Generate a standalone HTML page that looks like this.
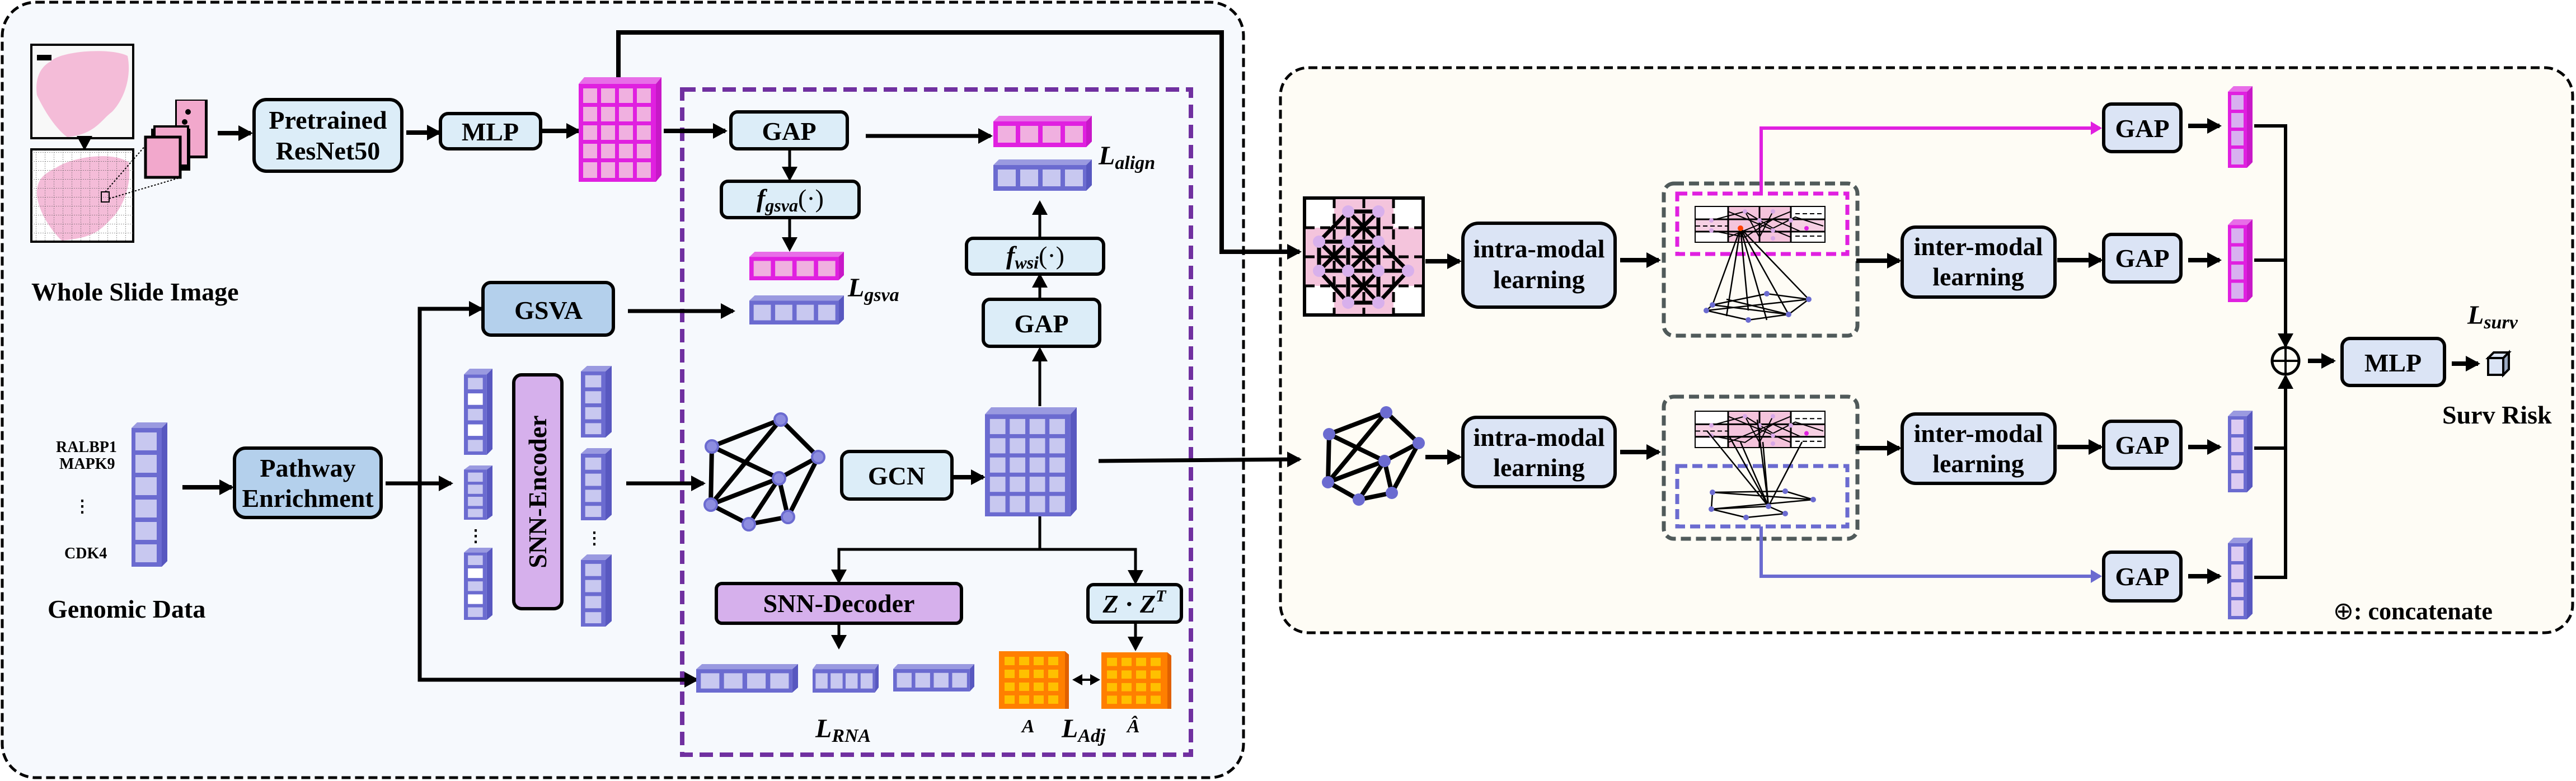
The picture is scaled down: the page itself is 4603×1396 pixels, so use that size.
<!DOCTYPE html>
<html><head><meta charset="utf-8"><style>
html,body{margin:0;padding:0;background:#fff}
svg{display:block}
text{font-family:"Liberation Serif",serif;font-weight:bold;fill:#000}
.b{font-size:46px}
.m{font-style:italic;font-weight:bold}
</style></head><body>
<svg width="4603" height="1396" viewBox="0 0 4603 1396" xmlns="http://www.w3.org/2000/svg">
<defs>
<marker id="a" markerUnits="userSpaceOnUse" markerWidth="26" markerHeight="28" refX="22" refY="14" orient="auto"><path d="M0,0 L26,14 L0,28 Z" fill="#000"/></marker>
<marker id="am" markerUnits="userSpaceOnUse" markerWidth="20" markerHeight="24" refX="16" refY="12" orient="auto"><path d="M0,0 L20,12 L0,24 Z" fill="#e020e0"/></marker>
<marker id="ab" markerUnits="userSpaceOnUse" markerWidth="20" markerHeight="24" refX="16" refY="12" orient="auto"><path d="M0,0 L20,12 L0,24 Z" fill="#6b6bd0"/></marker>
<marker id="as" markerUnits="userSpaceOnUse" markerWidth="18" markerHeight="20" refX="14" refY="10" orient="auto-start-reverse"><path d="M0,0 L18,10 L0,20 Z" fill="#000"/></marker>
<symbol id="rowM" viewBox="0 0 176 56" preserveAspectRatio="none">
<polygon points="0,10 10,0 176,0 166,10" fill="#e86ee8"/><polygon points="166,10 176,0 176,46 166,56" fill="#c818c8"/>
<rect x="0" y="10" width="166" height="46" fill="#e020e0"/>
<g fill="#f0b0e0"><rect x="8" y="18" width="32" height="30"/><rect x="48" y="18" width="32" height="30"/><rect x="88" y="18" width="32" height="30"/><rect x="128" y="18" width="32" height="30"/></g></symbol>
<symbol id="rowB" viewBox="0 0 176 56" preserveAspectRatio="none">
<polygon points="0,10 10,0 176,0 166,10" fill="#9a9ae0"/><polygon points="166,10 176,0 176,46 166,56" fill="#5858c0"/>
<rect x="0" y="10" width="166" height="46" fill="#6b6bd0"/>
<g fill="#c8c8f0"><rect x="8" y="18" width="32" height="30"/><rect x="48" y="18" width="32" height="30"/><rect x="88" y="18" width="32" height="30"/><rect x="128" y="18" width="32" height="30"/></g></symbol>
<symbol id="colM" viewBox="0 0 44 146" preserveAspectRatio="none">
<polygon points="0,10 10,0 44,0 34,10" fill="#e86ee8"/><polygon points="34,10 44,0 44,136 34,146" fill="#c818c8"/>
<rect x="0" y="10" width="34" height="136" fill="#e020e0"/>
<g fill="#d8b0f0"><rect x="6" y="16" width="22" height="26"/><rect x="6" y="48" width="22" height="26"/><rect x="6" y="80" width="22" height="26"/><rect x="6" y="112" width="22" height="28"/></g></symbol>
<symbol id="colB" viewBox="0 0 44 146" preserveAspectRatio="none">
<polygon points="0,10 10,0 44,0 34,10" fill="#9a9ae0"/><polygon points="34,10 44,0 44,136 34,146" fill="#5858c0"/>
<rect x="0" y="10" width="34" height="136" fill="#6b6bd0"/>
<g fill="#dccbf2"><rect x="6" y="16" width="22" height="26"/><rect x="6" y="48" width="22" height="26"/><rect x="6" y="80" width="22" height="26"/><rect x="6" y="112" width="22" height="28"/></g></symbol>
<symbol id="col5" viewBox="0 0 50 150" preserveAspectRatio="none">
<polygon points="0,10 10,0 50,0 40,10" fill="#9a9ae0"/><polygon points="40,10 50,0 50,140 40,150" fill="#5858c0"/>
<rect x="0" y="10" width="40" height="140" fill="#6b6bd0"/>
<g fill="#c8c8f0"><rect x="7" y="16" width="26" height="20"/><rect x="7" y="43" width="26" height="20" fill="#fff"/><rect x="7" y="70" width="26" height="20"/><rect x="7" y="97" width="26" height="20" fill="#fff"/><rect x="7" y="124" width="26" height="20"/></g></symbol>
<symbol id="col4" viewBox="0 0 50 130" preserveAspectRatio="none">
<polygon points="0,10 10,0 50,0 40,10" fill="#9a9ae0"/><polygon points="40,10 50,0 50,120 40,130" fill="#5858c0"/>
<rect x="0" y="10" width="40" height="120" fill="#6b6bd0"/>
<g fill="#c8c8f0"><rect x="7" y="17" width="26" height="22"/><rect x="7" y="46" width="26" height="22"/><rect x="7" y="75" width="26" height="22"/><rect x="7" y="104" width="26" height="20"/></g></symbol>
<symbol id="gridM" viewBox="0 0 148 187" preserveAspectRatio="none">
<polygon points="0,12 10,0 148,0 138,12" fill="#e86ee8"/><polygon points="138,12 148,0 148,175 138,187" fill="#c818c8"/>
<rect x="0" y="12" width="138" height="175" fill="#e020e0"/>
<g fill="#f0b0e0">
<rect x="8" y="20" width="25" height="26"/><rect x="40" y="20" width="25" height="26"/><rect x="72" y="20" width="25" height="26"/><rect x="104" y="20" width="25" height="26"/>
<rect x="8" y="53" width="25" height="26"/><rect x="40" y="53" width="25" height="26"/><rect x="72" y="53" width="25" height="26"/><rect x="104" y="53" width="25" height="26"/>
<rect x="8" y="86" width="25" height="26"/><rect x="40" y="86" width="25" height="26"/><rect x="72" y="86" width="25" height="26"/><rect x="104" y="86" width="25" height="26"/>
<rect x="8" y="119" width="25" height="26"/><rect x="40" y="119" width="25" height="26"/><rect x="72" y="119" width="25" height="26"/><rect x="104" y="119" width="25" height="26"/>
<rect x="8" y="152" width="25" height="28"/><rect x="40" y="152" width="25" height="28"/><rect x="72" y="152" width="25" height="28"/><rect x="104" y="152" width="25" height="28"/></g></symbol>
<symbol id="gridB" viewBox="0 0 148 187" preserveAspectRatio="none">
<polygon points="0,12 10,0 148,0 138,12" fill="#9a9ae0"/><polygon points="138,12 148,0 148,175 138,187" fill="#5858c0"/>
<rect x="0" y="12" width="138" height="175" fill="#6b6bd0"/>
<g fill="#c8c8f0">
<rect x="8" y="20" width="25" height="26"/><rect x="40" y="20" width="25" height="26"/><rect x="72" y="20" width="25" height="26"/><rect x="104" y="20" width="25" height="26"/>
<rect x="8" y="53" width="25" height="26"/><rect x="40" y="53" width="25" height="26"/><rect x="72" y="53" width="25" height="26"/><rect x="104" y="53" width="25" height="26"/>
<rect x="8" y="86" width="25" height="26"/><rect x="40" y="86" width="25" height="26"/><rect x="72" y="86" width="25" height="26"/><rect x="104" y="86" width="25" height="26"/>
<rect x="8" y="119" width="25" height="26"/><rect x="40" y="119" width="25" height="26"/><rect x="72" y="119" width="25" height="26"/><rect x="104" y="119" width="25" height="26"/>
<rect x="8" y="152" width="25" height="28"/><rect x="40" y="152" width="25" height="28"/><rect x="72" y="152" width="25" height="28"/><rect x="104" y="152" width="25" height="28"/></g></symbol>
<symbol id="gridO" viewBox="0 0 125 103" preserveAspectRatio="none">
<polygon points="118,0 125,6 125,103 118,103" fill="#e06000"/>
<rect x="0" y="0" width="118" height="103" fill="#ff7f00"/>
<g fill="#ffc000">
<rect x="10" y="10" width="18" height="15"/><rect x="36" y="10" width="18" height="15"/><rect x="62" y="10" width="18" height="15"/><rect x="88" y="10" width="18" height="15"/>
<rect x="10" y="33" width="18" height="15"/><rect x="36" y="33" width="18" height="15"/><rect x="62" y="33" width="18" height="15"/><rect x="88" y="33" width="18" height="15"/>
<rect x="10" y="56" width="18" height="15"/><rect x="36" y="56" width="18" height="15"/><rect x="62" y="56" width="18" height="15"/><rect x="88" y="56" width="18" height="15"/>
<rect x="10" y="79" width="18" height="15"/><rect x="36" y="79" width="18" height="15"/><rect x="62" y="79" width="18" height="15"/><rect x="88" y="79" width="18" height="15"/></g></symbol>
<pattern id="fine" width="16" height="16" patternUnits="userSpaceOnUse"><path d="M0,0 H16 M0,0 V16" stroke="#555" stroke-width="1.2" stroke-dasharray="2 2" fill="none"/></pattern>
<symbol id="mini" viewBox="0 0 234 66" preserveAspectRatio="none">
<rect x="0" y="0" width="234" height="66" fill="#fff" stroke="#000" stroke-width="4"/>
<rect x="60" y="2" width="112" height="62" fill="#f4c4dc"/><rect x="2" y="24" width="230" height="22" fill="#f4c4dc" opacity="0.8"/>
<path d="M2,24H232M2,46H232M60,2V64M116,2V64M172,2V64" stroke="#000" stroke-width="3"/>
<path d="M180,14H230M2,36H60M180,54H230" stroke="#000" stroke-width="2" stroke-dasharray="8 5"/>
<path d="M30,26L90,10L140,40L180,20L230,36M30,44L90,56L140,24L190,46M60,10L172,56M60,56L172,10M90,10L116,56M140,10L116,56" stroke="#000" stroke-width="2" fill="none"/>
<g fill="#d8a8e8"><circle cx="90" cy="10" r="4"/><circle cx="140" cy="10" r="4"/><circle cx="30" cy="26" r="4"/><circle cx="116" cy="26" r="4"/><circle cx="172" cy="26" r="4"/><circle cx="30" cy="44" r="4"/><circle cx="140" cy="44" r="4"/><circle cx="140" cy="58" r="4"/></g>
<circle cx="200" cy="40" r="4" fill="#e020e0"/>
</symbol>
</defs>

<rect x="4" y="4" width="2218" height="1386" rx="60" fill="#f6f9fd" stroke="#000" stroke-width="5" stroke-dasharray="16 8"/>
<rect x="2288" y="121" width="2309" height="1010" rx="50" fill="#fefcf5" stroke="#000" stroke-width="5" stroke-dasharray="16 8"/>
<rect x="1219" y="160" width="909" height="1189" fill="none" stroke="#7030a0" stroke-width="8" stroke-dasharray="24 12"/>

<rect x="56" y="80" width="182" height="167" fill="#f8f8f8" stroke="#000" stroke-width="4"/>
<path d="M90,110 C110,90 200,85 228,100 C236,140 220,180 200,200 C180,215 170,240 120,245 C100,230 80,200 66,170 C62,140 72,120 90,110Z" fill="#f4bcd8"/>
<rect x="66" y="98" width="26" height="10" fill="#000"/>
<rect x="56" y="267" width="182" height="165" fill="#fff" stroke="#000" stroke-width="4"/>
<path d="M100,300 C130,280 200,270 230,290 C236,330 220,370 200,390 C180,410 170,425 110,430 C90,410 70,380 66,350 C64,320 80,310 100,300Z" fill="#f4bcd8"/>
<rect x="56" y="267" width="182" height="165" fill="url(#fine)"/>
<rect x="181" y="343" width="14" height="18" fill="none" stroke="#000" stroke-width="2"/>
<path d="M195,355 L320,318 M188,343 L260,260" stroke="#000" stroke-width="2" stroke-dasharray="3 3"/>
<line x1="151" y1="247" x2="151" y2="265" stroke="#000" stroke-width="5" marker-end="url(#a)"/>
<rect x="313" y="178" width="58" height="105" fill="#000"/><rect x="316" y="180" width="50" height="98" fill="#f2a8cc"/>
<circle cx="336" cy="200" r="5"/><circle cx="330" cy="218" r="5"/>
<rect x="270" y="230" width="70" height="75" fill="#000"/><rect x="276" y="226" width="60" height="70" fill="#f2a8cc" stroke="#000" stroke-width="4"/>
<rect x="260" y="245" width="62" height="72" fill="#f2a8cc" stroke="#000" stroke-width="5"/>
<line x1="389" y1="238" x2="448" y2="238" stroke="#000" stroke-width="8" marker-end="url(#a)"/>
<rect x="454" y="178" width="264" height="128" rx="22" fill="#dcedf8" stroke="#000" stroke-width="6"/>
<text class="b" x="586" y="230" text-anchor="middle">Pretrained</text>
<text class="b" x="586" y="285" text-anchor="middle">ResNet50</text>
<line x1="726" y1="237" x2="785" y2="237" stroke="#000" stroke-width="8" marker-end="url(#a)"/>
<rect x="787" y="203" width="179" height="63" rx="14" fill="#dcedf8" stroke="#000" stroke-width="6"/>
<text class="b" x="876" y="251" text-anchor="middle">MLP</text>
<line x1="968" y1="234" x2="1034" y2="234" stroke="#000" stroke-width="8" marker-end="url(#a)"/>
<use href="#gridM" x="1034" y="138" width="148" height="187"/>
<text x="56" y="537" style="font-size:46px">Whole Slide Image</text>
<polyline points="1105,138 1105,58 2183,58 2183,450 2322,450" fill="none" stroke="#000" stroke-width="8" marker-end="url(#a)"/>

<line x1="1186" y1="234" x2="1296" y2="234" stroke="#000" stroke-width="8" marker-end="url(#a)"/>
<rect x="1306" y="200" width="208" height="66" rx="12" fill="#dcedf8" stroke="#000" stroke-width="6"/>
<text class="b" x="1410" y="250" text-anchor="middle">GAP</text>
<line x1="1547" y1="243" x2="1770" y2="243" stroke="#000" stroke-width="7" marker-end="url(#a)"/>
<use href="#rowM" x="1775" y="207" width="176" height="56"/>
<use href="#rowB" x="1775" y="285" width="176" height="56"/>
<text class="m" x="1963" y="294" style="font-size:48px">L<tspan style="font-size:34px" dy="8">align</tspan></text>
<line x1="1411" y1="267" x2="1411" y2="320" stroke="#000" stroke-width="5" marker-end="url(#a)"/>
<rect x="1289" y="324" width="246" height="65" rx="12" fill="#dcedf8" stroke="#000" stroke-width="6"/>
<text class="m" x="1412" y="370" text-anchor="middle" style="font-size:46px">f<tspan style="font-size:32px" dy="8">gsva</tspan><tspan dy="-8" style="font-style:normal;font-weight:normal">(·)</tspan></text>
<line x1="1411" y1="389" x2="1411" y2="446" stroke="#000" stroke-width="5" marker-end="url(#a)"/>
<use href="#rowM" x="1339" y="450" width="169" height="51"/>
<use href="#rowB" x="1339" y="528" width="169" height="52"/>
<text class="m" x="1515" y="530" style="font-size:48px">L<tspan style="font-size:34px" dy="8">gsva</tspan></text>
<rect x="1727" y="426" width="245" height="64" rx="12" fill="#dcedf8" stroke="#000" stroke-width="6"/>
<text class="m" x="1850" y="472" text-anchor="middle" style="font-size:46px">f<tspan style="font-size:32px" dy="8">wsi</tspan><tspan dy="-8" style="font-style:normal;font-weight:normal">(·)</tspan></text>
<line x1="1858" y1="425" x2="1858" y2="362" stroke="#000" stroke-width="5" marker-end="url(#a)"/>
<rect x="1757" y="535" width="208" height="84" rx="12" fill="#dcedf8" stroke="#000" stroke-width="6"/>
<text class="b" x="1861" y="594" text-anchor="middle">GAP</text>
<line x1="1858" y1="535" x2="1858" y2="492" stroke="#000" stroke-width="5" marker-end="url(#a)"/>
<line x1="1858" y1="726" x2="1858" y2="624" stroke="#000" stroke-width="5" marker-end="url(#a)"/>

<rect x="863" y="505" width="233" height="94" rx="14" fill="#b4d0ec" stroke="#000" stroke-width="6"/>
<text class="b" x="980" y="570" text-anchor="middle">GSVA</text>
<line x1="1122" y1="556" x2="1310" y2="556" stroke="#000" stroke-width="7" marker-end="url(#a)"/>
<text x="100" y="808" style="font-size:28px">RALBP1</text>
<text x="106" y="838" style="font-size:28px">MAPK9</text>
<text x="147" y="915" text-anchor="middle" style="font-size:30px">⋮</text>
<text x="115" y="998" style="font-size:28px">CDK4</text>
<polygon points="235,765 245,755 299,755 289,765" fill="#9a9ae0"/><polygon points="289,765 299,755 299,1003 289,1013" fill="#5858c0"/>
<rect x="235" y="765" width="54" height="248" fill="#6b6bd0"/>
<g fill="#c8c8f0"><rect x="242" y="773" width="38" height="32"/><rect x="242" y="813" width="38" height="32"/><rect x="242" y="853" width="38" height="32"/><rect x="242" y="893" width="38" height="32"/><rect x="242" y="933" width="38" height="32"/><rect x="242" y="973" width="38" height="32"/></g>
<text x="85" y="1104" style="font-size:46px">Genomic Data</text>
<line x1="326" y1="871" x2="414" y2="871" stroke="#000" stroke-width="8" marker-end="url(#a)"/>
<rect x="419" y="801" width="262" height="124" rx="20" fill="#b4d0ec" stroke="#000" stroke-width="6"/>
<text class="b" x="550" y="852" text-anchor="middle">Pathway</text>
<text class="b" x="550" y="906" text-anchor="middle">Enrichment</text>
<line x1="689" y1="864" x2="806" y2="864" stroke="#000" stroke-width="7" marker-end="url(#a)"/>
<polyline points="860,552 750,552 750,1215 1245,1215" fill="none" stroke="#000" stroke-width="7" marker-end="url(#a)"/>
<line x1="750" y1="552" x2="860" y2="552" stroke="#000" stroke-width="7" marker-end="url(#a)"/>
<use href="#col5" x="829" y="659" width="51" height="154"/>
<use href="#col4" x="829" y="832" width="51" height="97"/>
<text x="850" y="968" text-anchor="middle" style="font-size:30px">⋮</text>
<use href="#col5" x="829" y="979" width="51" height="129"/>
<rect x="918" y="670" width="86" height="418" rx="14" fill="#d6b0ec" stroke="#000" stroke-width="6"/>
<text x="961" y="879" text-anchor="middle" transform="rotate(-90 961 879)" style="font-size:46px" dy="15">SNN-Encoder</text>
<use href="#col4" x="1038" y="654" width="55" height="128"/>
<use href="#col4" x="1038" y="801" width="55" height="129"/>
<text x="1062" y="972" text-anchor="middle" style="font-size:30px">⋮</text>
<use href="#col4" x="1038" y="991" width="55" height="129"/>
<line x1="1119" y1="864" x2="1257" y2="864" stroke="#000" stroke-width="7" marker-end="url(#a)"/>
<g stroke="#000" stroke-width="8">
<line x1="1395" y1="750" x2="1272" y2="798"/><line x1="1395" y1="750" x2="1462" y2="817"/><line x1="1272" y1="798" x2="1270" y2="902"/>
<line x1="1272" y1="798" x2="1392" y2="855"/><line x1="1395" y1="750" x2="1270" y2="902"/><line x1="1462" y1="817" x2="1392" y2="855"/>
<line x1="1392" y1="855" x2="1270" y2="902"/><line x1="1392" y1="855" x2="1408" y2="924"/><line x1="1392" y1="855" x2="1338" y2="937"/>
<line x1="1270" y1="902" x2="1338" y2="937"/><line x1="1338" y1="937" x2="1408" y2="924"/><line x1="1462" y1="817" x2="1408" y2="924"/></g>
<g fill="#8d8de0" stroke="#6b6bd0" stroke-width="4">
<circle cx="1395" cy="750" r="11"/><circle cx="1272" cy="798" r="11"/><circle cx="1462" cy="817" r="11"/><circle cx="1392" cy="855" r="11"/><circle cx="1270" cy="902" r="11"/><circle cx="1338" cy="937" r="11"/><circle cx="1408" cy="924" r="11"/></g>
<rect x="1504" y="807" width="197" height="85" rx="14" fill="#dcedf8" stroke="#000" stroke-width="6"/>
<text class="b" x="1602" y="866" text-anchor="middle">GCN</text>
<line x1="1704" y1="853" x2="1757" y2="853" stroke="#000" stroke-width="8" marker-end="url(#a)"/>
<use href="#gridB" x="1760" y="728" width="164" height="195"/>
<line x1="1963" y1="824" x2="2322" y2="821" stroke="#000" stroke-width="7" marker-end="url(#a)"/>
<line x1="1858" y1="923" x2="1858" y2="982" stroke="#000" stroke-width="5"/>
<polyline points="1499,1040 1499,982 2029,982 2029,1040" fill="none" stroke="#000" stroke-width="5"/>
<line x1="1499" y1="1000" x2="1499" y2="1040" stroke="#000" stroke-width="5" marker-end="url(#a)"/>
<line x1="2029" y1="1000" x2="2029" y2="1041" stroke="#000" stroke-width="5" marker-end="url(#a)"/>
<rect x="1280" y="1043" width="438" height="71" rx="10" fill="#d6b0ec" stroke="#000" stroke-width="6"/>
<text class="b" x="1499" y="1094" text-anchor="middle">SNN-Decoder</text>
<rect x="1944" y="1045" width="167" height="67" rx="10" fill="#dcedf8" stroke="#000" stroke-width="6"/>
<text class="m" x="2027" y="1095" text-anchor="middle" style="font-size:46px">Z <tspan style="font-style:normal">·</tspan> Z<tspan style="font-size:30px" dy="-20">T</tspan></text>
<line x1="1499" y1="1115" x2="1499" y2="1157" stroke="#000" stroke-width="5" marker-end="url(#a)"/>
<line x1="2029" y1="1113" x2="2029" y2="1160" stroke="#000" stroke-width="5" marker-end="url(#a)"/>
<use href="#rowB" x="1244" y="1187" width="182" height="51"/>
<use href="#rowB" x="1452" y="1187" width="118" height="51"/>
<use href="#rowB" x="1596" y="1187" width="145" height="49"/>
<use href="#gridO" x="1785" y="1164" width="125" height="103"/>
<use href="#gridO" x="1968" y="1166" width="125" height="101"/>
<line x1="1920" y1="1215" x2="1962" y2="1215" stroke="#000" stroke-width="4" marker-start="url(#as)" marker-end="url(#as)"/>
<text class="m" x="1457" y="1318" style="font-size:48px">L<tspan style="font-size:34px" dy="8">RNA</tspan></text>
<text class="m" x="1826" y="1309" style="font-size:34px">A</text>
<text class="m" x="1897" y="1318" style="font-size:48px">L<tspan style="font-size:34px" dy="8">Adj</tspan></text>
<text class="m" x="2014" y="1309" style="font-size:34px">Â</text>

<!-- right panel WSI graph -->
<rect x="2331" y="354" width="212" height="209" fill="#fff" stroke="#000" stroke-width="6"/>
<rect x="2384" y="356" width="106" height="205" fill="#f4c4dc"/><rect x="2333" y="407" width="208" height="104" fill="#f4c4dc"/>
<path d="M2384,354V563M2437,354V563M2490,354V563M2331,407H2543M2331,459H2543M2331,511H2543" stroke="#000" stroke-width="5" stroke-dasharray="18 10"/>
<g stroke="#000" stroke-width="7" fill="none">
<path d="M2409,378L2357,432L2357,484L2409,541L2463,541L2516,484L2463,432L2463,378Z"/>
<path d="M2409,378V541M2463,378V541M2409,378H2463M2357,432H2463M2357,484H2516M2409,541H2463"/>
<path d="M2409,378L2463,432M2463,378L2409,432M2357,432L2409,484M2409,432L2357,484M2409,432L2463,484M2463,432L2409,484M2409,484L2463,541M2463,484L2409,541"/></g>
<g fill="#d8b0ec"><circle cx="2409" cy="378" r="11"/><circle cx="2463" cy="378" r="11"/><circle cx="2357" cy="432" r="11"/><circle cx="2409" cy="432" r="11"/><circle cx="2463" cy="432" r="11"/><circle cx="2357" cy="484" r="11"/><circle cx="2409" cy="484" r="11"/><circle cx="2463" cy="484" r="11"/><circle cx="2516" cy="484" r="11"/><circle cx="2409" cy="541" r="11"/><circle cx="2463" cy="541" r="11"/></g>
<line x1="2547" y1="467" x2="2608" y2="467" stroke="#000" stroke-width="8" marker-end="url(#a)"/>
<rect x="2614" y="399" width="272" height="150" rx="28" fill="#dbe4f5" stroke="#000" stroke-width="6"/>
<text class="b" x="2750" y="460" text-anchor="middle">intra-modal</text>
<text class="b" x="2750" y="515" text-anchor="middle">learning</text>
<line x1="2895" y1="465" x2="2964" y2="465" stroke="#000" stroke-width="8" marker-end="url(#a)"/>
<rect x="2973" y="328" width="346" height="272" rx="18" fill="none" stroke="#505a5a" stroke-width="7" stroke-dasharray="18 9"/>
<rect x="2997" y="346" width="304" height="108" fill="none" stroke="#e020e0" stroke-width="7" stroke-dasharray="18 9"/>
<use href="#mini" x="3028" y="368" width="234" height="66"/>
<g stroke="#000" stroke-width="2.5" fill="none">
<path d="M3110,408L3060,545M3110,408L3085,565M3110,408L3124,555M3110,408L3157,572M3110,408L3196,562M3110,408L3232,535M3060,545L3157,525M3060,545L3196,562M3049,555L3232,535M3049,555L3124,572M3124,572L3196,562M3196,562L3232,535M3157,525L3232,535M3060,545L3049,555M3085,535L3196,562"/></g>
<g fill="#6b6bd0"><circle cx="3060" cy="545" r="5"/><circle cx="3157" cy="525" r="5"/><circle cx="3232" cy="535" r="5"/><circle cx="3049" cy="555" r="5"/><circle cx="3124" cy="572" r="5"/><circle cx="3196" cy="562" r="5"/></g>
<circle cx="3110" cy="408" r="5" fill="#ff4000"/>
<polyline points="3147,346 3147,229 3752,229" fill="none" stroke="#e020e0" stroke-width="6" marker-end="url(#am)"/>
<rect x="3759" y="186" width="138" height="85" rx="14" fill="#dbe4f5" stroke="#000" stroke-width="6"/>
<text class="b" x="3828" y="245" text-anchor="middle">GAP</text>
<line x1="3910" y1="225" x2="3966" y2="225" stroke="#000" stroke-width="8" marker-end="url(#a)"/>
<use href="#colM" x="3981" y="154" width="44" height="146"/>
<line x1="3317" y1="466" x2="3394" y2="466" stroke="#000" stroke-width="8" marker-end="url(#a)"/>
<rect x="3399" y="406" width="273" height="125" rx="24" fill="#dbe4f5" stroke="#000" stroke-width="6"/>
<text class="b" x="3535" y="456" text-anchor="middle">inter-modal</text>
<text class="b" x="3535" y="510" text-anchor="middle">learning</text>
<line x1="3676" y1="465" x2="3754" y2="465" stroke="#000" stroke-width="8" marker-end="url(#a)"/>
<rect x="3759" y="419" width="138" height="85" rx="14" fill="#dbe4f5" stroke="#000" stroke-width="6"/>
<text class="b" x="3828" y="477" text-anchor="middle">GAP</text>
<line x1="3910" y1="465" x2="3966" y2="465" stroke="#000" stroke-width="8" marker-end="url(#a)"/>
<use href="#colM" x="3981" y="392" width="44" height="148"/>
<polyline points="4028,225 4084,225 4084,618" fill="none" stroke="#000" stroke-width="6" marker-end="url(#a)"/>
<line x1="4028" y1="465" x2="4084" y2="465" stroke="#000" stroke-width="6"/>

<line x1="4084" y1="1032" x2="4084" y2="673" stroke="#000" stroke-width="6" marker-end="url(#a)"/>
<ellipse cx="4084" cy="645" rx="24" ry="24" fill="none" stroke="#000" stroke-width="5"/>
<path d="M4084,621V669M4060,645H4108" stroke="#000" stroke-width="4"/>
<line x1="4124" y1="645" x2="4170" y2="645" stroke="#000" stroke-width="8" marker-end="url(#a)"/>
<rect x="4185" y="605" width="183" height="84" rx="14" fill="#dbe4f5" stroke="#000" stroke-width="6"/>
<text class="b" x="4276" y="664" text-anchor="middle">MLP</text>
<line x1="4381" y1="650" x2="4428" y2="650" stroke="#000" stroke-width="8" marker-end="url(#a)"/>
<polygon points="4446,640 4456,630 4483,630 4473,640" fill="#dbe4f5" stroke="#000" stroke-width="4"/>
<polygon points="4473,640 4483,630 4483,660 4473,670" fill="#9aa8c0" stroke="#000" stroke-width="4"/>
<rect x="4446" y="640" width="27" height="30" fill="#dbe4f5" stroke="#000" stroke-width="4"/>
<text class="m" x="4409" y="579" style="font-size:48px">L<tspan style="font-size:34px" dy="8">surv</tspan></text>
<text x="4364" y="757" style="font-size:46px">Surv Risk</text>
<text x="4169" y="1107" style="font-size:44px"><tspan style="font-weight:normal">⊕</tspan>: concatenate</text>

<g stroke="#000" stroke-width="8">
<line x1="2477" y1="737" x2="2375" y2="776"/><line x1="2477" y1="737" x2="2535" y2="792"/><line x1="2375" y1="776" x2="2373" y2="862"/>
<line x1="2375" y1="776" x2="2474" y2="824"/><line x1="2477" y1="737" x2="2373" y2="862"/><line x1="2535" y1="792" x2="2474" y2="824"/>
<line x1="2474" y1="824" x2="2373" y2="862"/><line x1="2474" y1="824" x2="2487" y2="881"/><line x1="2474" y1="824" x2="2428" y2="893"/>
<line x1="2373" y1="862" x2="2428" y2="893"/><line x1="2428" y1="893" x2="2487" y2="881"/><line x1="2535" y1="792" x2="2487" y2="881"/></g>
<g fill="#6b6bd0"><circle cx="2477" cy="737" r="11"/><circle cx="2375" cy="776" r="11"/><circle cx="2535" cy="792" r="11"/><circle cx="2474" cy="824" r="11"/><circle cx="2373" cy="862" r="11"/><circle cx="2428" cy="893" r="11"/><circle cx="2487" cy="881" r="11"/></g>
<line x1="2547" y1="817" x2="2608" y2="817" stroke="#000" stroke-width="8" marker-end="url(#a)"/>
<rect x="2614" y="746" width="272" height="124" rx="24" fill="#dbe4f5" stroke="#000" stroke-width="6"/>
<text class="b" x="2750" y="797" text-anchor="middle">intra-modal</text>
<text class="b" x="2750" y="851" text-anchor="middle">learning</text>
<line x1="2895" y1="808" x2="2964" y2="808" stroke="#000" stroke-width="8" marker-end="url(#a)"/>
<rect x="2973" y="709" width="346" height="254" rx="18" fill="none" stroke="#505a5a" stroke-width="7" stroke-dasharray="18 9"/>
<rect x="2997" y="833" width="304" height="108" fill="none" stroke="#6b6bd0" stroke-width="7" stroke-dasharray="18 9"/>
<use href="#mini" x="3028" y="734" width="234" height="67"/>
<g stroke="#000" stroke-width="2.5" fill="none">
<path d="M3050,770L3160,905M3090,780L3160,905M3110,790L3160,905M3140,750L3160,905M3150,790L3160,905M3220,790L3160,905M3060,880L3190,878M3060,880L3240,893M3058,910L3240,893M3058,910L3120,925M3120,925L3190,918M3160,905L3058,910M3160,905L3190,918M3190,878L3240,893M3060,880L3058,910"/></g>
<g fill="#6b6bd0"><circle cx="3060" cy="880" r="5"/><circle cx="3190" cy="878" r="5"/><circle cx="3240" cy="893" r="5"/><circle cx="3058" cy="910" r="5"/><circle cx="3120" cy="925" r="5"/><circle cx="3190" cy="918" r="5"/><circle cx="3160" cy="905" r="5"/></g>
<polyline points="3147,941 3147,1030 3752,1030" fill="none" stroke="#6b6bd0" stroke-width="6" marker-end="url(#ab)"/>
<line x1="3317" y1="801" x2="3394" y2="801" stroke="#000" stroke-width="8" marker-end="url(#a)"/>
<rect x="3399" y="740" width="273" height="124" rx="24" fill="#dbe4f5" stroke="#000" stroke-width="6"/>
<text class="b" x="3535" y="790" text-anchor="middle">inter-modal</text>
<text class="b" x="3535" y="844" text-anchor="middle">learning</text>
<line x1="3676" y1="799" x2="3754" y2="799" stroke="#000" stroke-width="8" marker-end="url(#a)"/>
<rect x="3759" y="753" width="138" height="84" rx="14" fill="#dbe4f5" stroke="#000" stroke-width="6"/>
<text class="b" x="3828" y="811" text-anchor="middle">GAP</text>
<line x1="3910" y1="799" x2="3966" y2="799" stroke="#000" stroke-width="8" marker-end="url(#a)"/>
<use href="#colB" x="3981" y="734" width="44" height="146"/>
<line x1="4028" y1="801" x2="4084" y2="801" stroke="#000" stroke-width="6"/>
<rect x="3759" y="987" width="138" height="87" rx="14" fill="#dbe4f5" stroke="#000" stroke-width="6"/>
<text class="b" x="3828" y="1046" text-anchor="middle">GAP</text>
<line x1="3910" y1="1030" x2="3966" y2="1030" stroke="#000" stroke-width="8" marker-end="url(#a)"/>
<use href="#colB" x="3981" y="961" width="44" height="146"/>
<line x1="4028" y1="1032" x2="4087" y2="1032" stroke="#000" stroke-width="6"/>
</svg>
</body></html>
